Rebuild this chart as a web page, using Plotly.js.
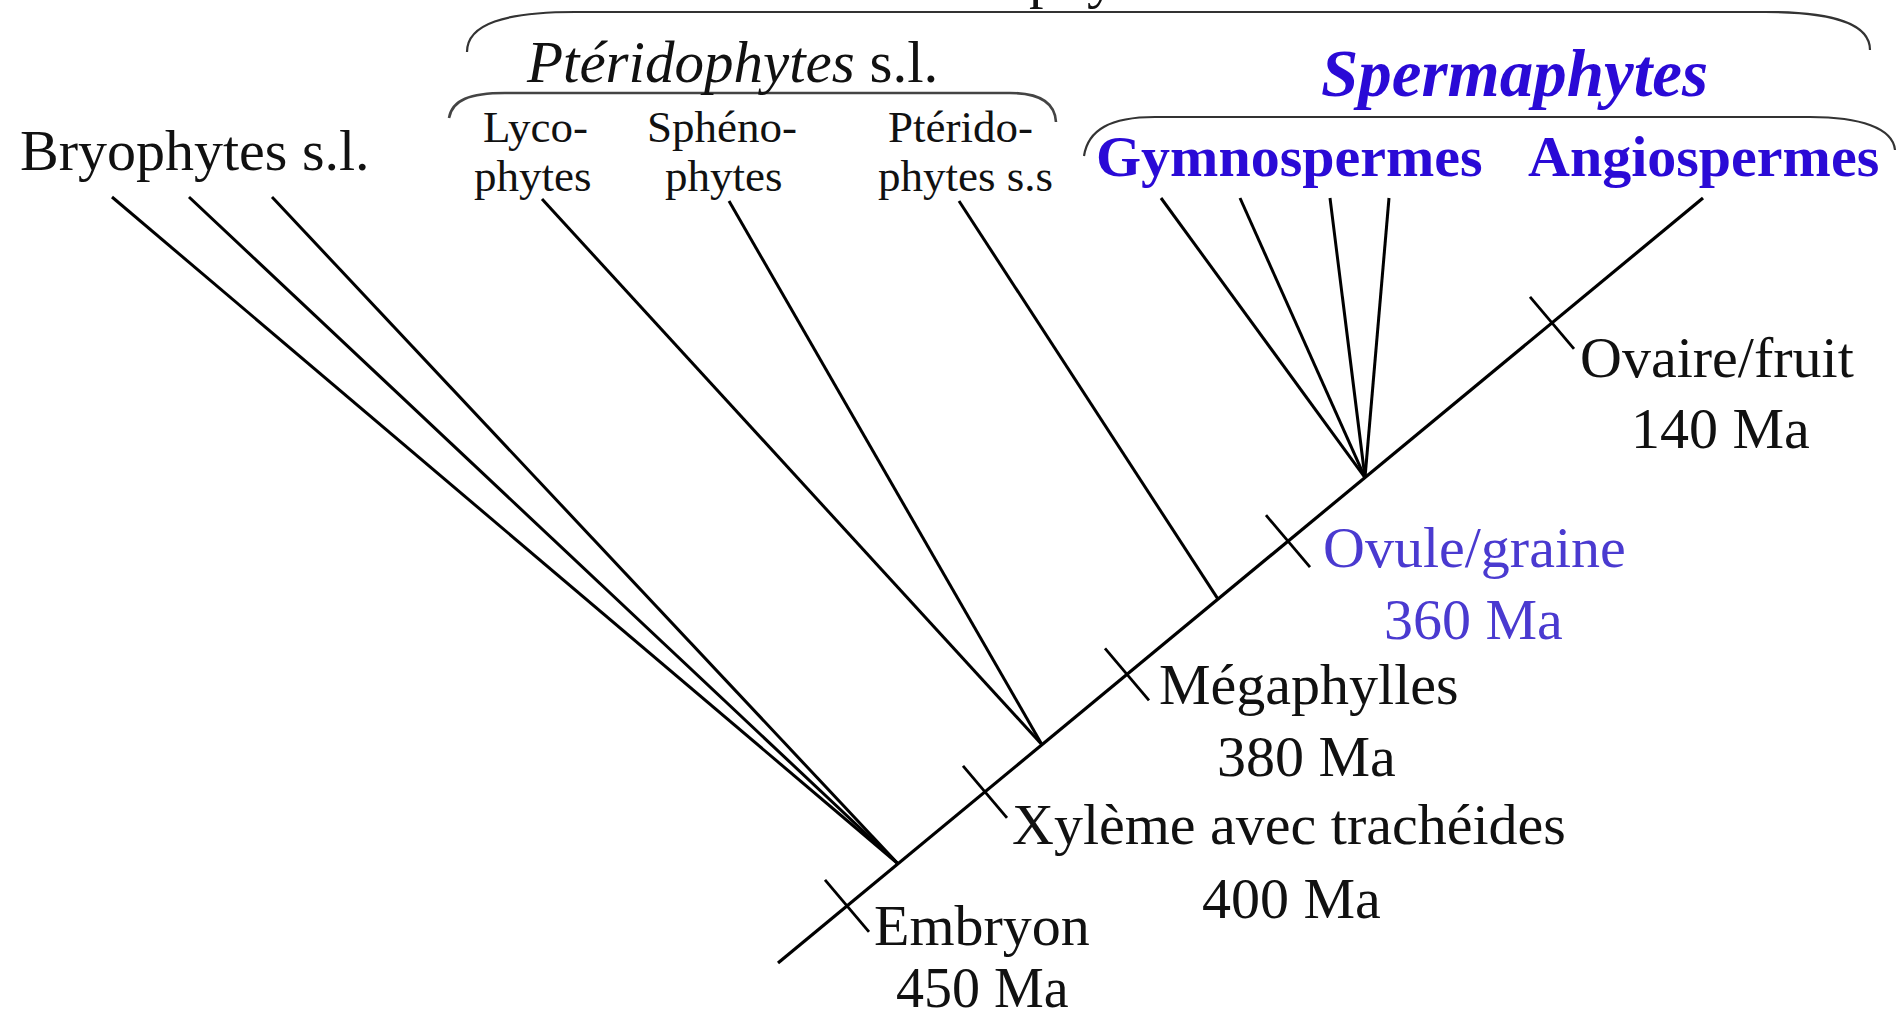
<!DOCTYPE html>
<html><head><meta charset="utf-8">
<script src="https://cdn.plot.ly/plotly-3.0.1.min.js"></script>
<style>html,body{margin:0;padding:0;background:#fff;overflow:hidden}#chart{width:1901px;height:1019px}</style>
</head><body><div id="chart"></div>
<script>
// ---------- DATA ----------
// main trunk (root -> Angiospermes tip)
const trunkX = [778, 1703];
const trunkY = [963, 198];
// terminal branches: tip position and the trunk node they attach to
const branchTaxa = ['Bryophytes 1','Bryophytes 2','Bryophytes 3','Lycophytes','Sphénophytes','Ptéridophytes s.s','Gymnospermes 1','Gymnospermes 2','Gymnospermes 3','Gymnospermes 4'];
const branchTipX = [112, 189, 272, 542, 729, 959, 1161, 1240, 1330, 1389];
const branchTipY = [197, 197, 197, 199, 201, 201, 198, 198, 198, 198];
const branchNodeX = [898, 898, 898, 1042, 1042, 1218, 1365, 1365, 1365, 1365];
// characters (synapomorphies) on the trunk
const charNames = ['Embryon', 'Xylème avec trachéides', 'Mégaphylles', 'Ovule/graine', 'Ovaire/fruit'];
const charAges = ['450 Ma', '400 Ma', '380 Ma', '360 Ma', '140 Ma'];
const charX = [847, 985, 1127, 1288, 1552];
const charHighlight = [false, false, false, true, false];
// taxon labels
const taxonLines = ['Bryophytes s.l.', 'Lyco-', 'phytes', 'Sphéno-', 'phytes', 'Ptérido-', 'phytes s.s'];
const groupLabels = ['<i>Ptéridophytes</i> s.l.', '<b><i>Spermaphytes</i></b>', '<b>Gymnospermes</b>', '<b>Angiospermes</b>', 'Trachéophytes'];

// ---------- LAYOUT / STYLE ----------
const FONT = '"Liberation Serif", "Times New Roman", Times, serif';
const BLACK = '#111111';
const BLUE = '#2a0ad6';
const BLUE2 = '#4a3ad0';
const slope = (trunkY[1] - trunkY[0]) / (trunkX[1] - trunkX[0]);
const trunkAt = x => trunkY[0] + slope * (x - trunkX[0]);

const traces = [];
// trunk
traces.push({x: trunkX, y: trunkY, mode: 'lines', line: {color: '#000', width: 3.2}, hoverinfo: 'skip'});
// branches
const bx = [], by = [];
branchTipX.forEach((tx, i) => {
  bx.push(branchNodeX[i], tx, null);
  by.push(trunkAt(branchNodeX[i]), branchTipY[i], null);
});
traces.push({x: bx, y: by, mode: 'lines', line: {color: '#000', width: 3}, hoverinfo: 'skip'});
// character ticks
const tx = [], ty = [];
const dx = 22, dy = 26;
charX.forEach(cx => {
  const cy = trunkAt(cx);
  tx.push(cx - dx, cx + dx, null);
  ty.push(cy - dy, cy + dy, null);
});
traces.push({x: tx, y: ty, mode: 'lines', line: {color: '#000', width: 2.8}, hoverinfo: 'skip'});

function lab(text, cx, baseline, size, color) {
  return {x: cx, y: baseline - 0.3375 * size, xref: 'x', yref: 'y', text: text, showarrow: false,
    xanchor: 'center', yanchor: 'middle', font: {family: FONT, size: size, color: color || BLACK}};
}
const ann = [];
// character labels
const charLabelPos = [[982, 945, 982, 1007], [1289, 844, 1291, 918], [1309, 704, 1306, 776], [1474, 567, 1473, 639], [1717, 377, 1720, 448]];
charNames.forEach((n, i) => {
  const p = charLabelPos[i];
  const col = charHighlight[i] ? BLUE2 : BLACK;
  ann.push(lab(n, p[0], p[1], 58, col));
  ann.push(lab(charAges[i], p[2], p[3], i === 0 ? 56 : 58, col));
});
// taxon labels
const taxonPos = [[195, 170, 58], [535, 142, 45], [533, 191, 45], [722, 142, 45], [724, 191, 45], [960, 142, 45], [965, 191, 45]];
taxonLines.forEach((t, i) => ann.push(lab(t, taxonPos[i][0], taxonPos[i][1], taxonPos[i][2])));
// group labels
ann.push(lab(groupLabels[0], 732, 82, 59));
ann.push(lab(groupLabels[1], 1514, 96, 67, BLUE));
ann.push(lab(groupLabels[2], 1289, 176, 58, BLUE));
ann.push(lab(groupLabels[3], 1703, 176, 58, BLUE));
// top title, mostly cut off by the page edge (as in the source figure)
ann.push({x: 1011 / 1901, y: 1 + (3 + 0.3375 * 58) / 1019, xref: 'paper', yref: 'paper', text: groupLabels[4], showarrow: false,
  xanchor: 'center', yanchor: 'middle', font: {family: FONT, size: 58, color: BLACK}});

// braces
const braceStyle = {color: '#333', width: 2.2};
const shapes = [
  {type: 'path', xref: 'x', yref: 'y', path: 'M467,52 C467,24 505,12 575,12 L1765,12 C1835,12 1870,24 1870,50', line: braceStyle},
  {type: 'path', xref: 'x', yref: 'y', path: 'M449,118 C452,100 470,93 505,93 L1010,93 C1040,93 1055,103 1056,122', line: {color: '#444', width: 2.6}},
  {type: 'path', xref: 'x', yref: 'y', path: 'M1084,156 C1088,130 1110,117 1155,117 L1810,117 C1860,117 1893,128 1895,150', line: braceStyle}
];

const layout = {
  width: 1901, height: 1019,
  margin: {l: 0, r: 0, t: 0, b: 0},
  paper_bgcolor: '#fff', plot_bgcolor: '#fff',
  showlegend: false,
  xaxis: {range: [0, 1901], visible: false, fixedrange: true},
  yaxis: {range: [1019, 0], visible: false, fixedrange: true},
  annotations: ann,
  shapes: shapes
};
Plotly.newPlot('chart', traces, layout, {staticPlot: true, displayModeBar: false});
</script>
</body></html>
